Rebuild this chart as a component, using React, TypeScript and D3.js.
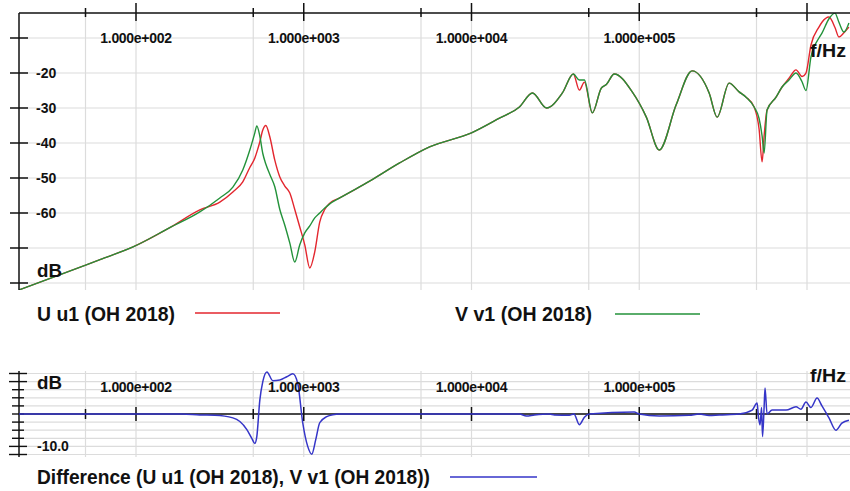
import React from "react";
import * as d3 from "d3";

// ---------- data ----------
const FREQ_UV = [20, 35, 61, 96, 159, 240, 316, 378, 433, 477, 511, 525, 547, 570, 594, 628, 672, 720, 771, 826, 884, 947, 1014, 1086, 1163, 1245, 1334, 1429, 1638, 2470, 3727, 5623, 10000, 14678, 19307, 23090, 27950, 34800, 40470, 43960, 47100, 52500, 59400, 63650, 71000, 90800, 110200, 131600, 166000, 206600, 261000, 291300, 343400, 393800, 433300, 484000, 518000, 540000, 555000, 578000, 653900, 710000, 781000, 860000, 934000, 986000, 1056000, 1178000, 1228000, 1352000, 1468000, 1550000, 1660000, 1778000];
const U_DB = [-82, -77.7, -73.3, -69.7, -64.2, -59.1, -56.9, -54, -51.1, -47, -44.3, -42.6, -39.7, -36.3, -35, -38.3, -44.9, -49.7, -52.3, -54.3, -59, -64, -69.1, -75.7, -71.1, -62.6, -59, -57.2, -55.7, -50.9, -45.7, -41.1, -37.1, -32.9, -29.7, -25.7, -30, -25.7, -20.3, -24.9, -22.6, -31.4, -24.3, -23.3, -20.3, -25.4, -32.6, -42, -29.1, -19.4, -25.7, -32.6, -22.9, -25.4, -26.9, -29.7, -36, -45.4, -38, -30.6, -26.9, -24, -21.5, -19.1, -21, -20, -12, -6.9, -5.5, -4, -7, -9.7, -8.5, -6.9];
const V_DB = [-82, -77.7, -73.3, -69.7, -64.2, -59.7, -55.7, -52.6, -47.7, -42, -37.1, -35.1, -38, -43, -46, -49, -52.5, -59, -63.5, -68.6, -74, -69.1, -65.7, -63.7, -61.4, -60, -58.6, -57.4, -55.7, -50.9, -45.7, -41.1, -37.1, -32.9, -29.7, -25.7, -30, -25.7, -20.3, -22, -22, -31.4, -24.3, -23.3, -20.3, -25.4, -32.6, -42, -29.1, -19.4, -25.7, -32.6, -22.9, -25.4, -26.9, -29.7, -33, -38, -42.9, -30.6, -26.9, -24, -22, -20, -22.5, -25, -15.4, -10, -8.6, -4.5, -2.9, -5.5, -8.3, -5.7];
const DIFF_FREQ = [20, 188, 240, 295, 378, 416, 458, 490, 511, 525, 547, 570, 603, 654, 720, 792, 861, 921, 986, 1056, 1116, 1178, 1245, 1371, 1490, 1638, 19307, 21230, 23700, 29110, 31200, 38300, 40800, 43960, 47100, 50400, 93300, 100000, 131600, 198600, 227700, 261000, 299400, 393800, 471000, 504000, 514000, 525000, 536000, 543000, 555000, 562000, 578000, 619000, 750000, 860000, 920000, 986000, 1056000, 1148000, 1228000, 1352000, 1489000, 1614000, 1778000];
const DIFF_DB = [0, 0, -0.3, -0.4, -1.2, -2.3, -4.8, -7.5, -9.1, -7, 4.2, 10, 13, 10.3, 10.5, 11.5, 12.4, 9.4, -2.7, -10, -12.4, -8, -2.7, -0.8, -0.2, 0, 0, -0.6, -0.3, 0, -0.3, -0.4, 0, -3.3, -1, 0, 0.6, 0, -0.6, -0.4, 0, -0.5, -0.3, 0, 1.2, 3.4, -1, -3.4, 2, -7, 2, 8, 0, 1.2, 1.2, 2.2, 1.5, 3.7, 2, 4.9, 2.5, -1.2, -5, -2.8, -1.9];

const DECADES = [100, 1000, 10000, 100000, 1000000];
const MINORS = [50, 500, 5000, 50000, 500000];
const X_LABELS = ["1.000e+002", "1.000e+003", "1.000e+004", "1.000e+005"];
const TOP_Y_TICKS = [-10, -20, -30, -40, -50, -60, -70, -80];
const TOP_Y_LABELS = ["", "-20", "-30", "-40", "-50", "-60", "", ""];
const BOT_Y_TICKS = [12.5, 10, 7.5, 5, 2.5, 0, -2.5, -5, -7.5, -10, -12.5];
const LEGEND_U = "U u1 (OH 2018)";
const LEGEND_V = "V v1 (OH 2018)";
const LEGEND_D = "Difference (U u1 (OH 2018), V v1 (OH 2018))";

const RED = "#e3262e";
const GREEN = "#23923a";
const BLUE = "#3535c8";
const GRID = "#dcdcdc";
const FONT = "'Liberation Sans', Arial, Helvetica, sans-serif";

export default function App() {
  const W = 850, H = 491;
  const x = d3.scaleLog().domain([20, 2e6]).range([18.75, 857.5]);
  const yTop = d3.scaleLinear().domain([-80, -10]).range([283, 38]);
  const yBot = d3.scaleLinear().domain([-12.5, 12.5]).range([454.5, 373.5]);
  const top0 = 13, top1 = 290, bot0 = 371, bot1 = 457, left = 19;

  const lineTop = d3.line<[number, number]>().x(d => x(d[0])).y(d => yTop(d[1])).curve(d3.curveMonotoneX);
  const lineBot = d3.line<[number, number]>().x(d => x(d[0])).y(d => yBot(d[1])).curve(d3.curveMonotoneX);
  const uPts = FREQ_UV.map((f, i) => [f, U_DB[i]] as [number, number]);
  const vPts = FREQ_UV.map((f, i) => [f, V_DB[i]] as [number, number]);
  const dPts = DIFF_FREQ.map((f, i) => [f, DIFF_DB[i]] as [number, number]);
  const vGrid = [...DECADES, ...MINORS];

  return (
    <svg width={W} height={H} style={{ position: "absolute", left: 0, top: 0, background: "#fff" }} fontFamily={FONT}>
      <defs>
        <clipPath id="clipTop"><rect x={left} y={top0} width={W - left} height={top1 - top0} /></clipPath>
        <clipPath id="clipBot"><rect x={left} y={bot0} width={W - left} height={bot1 - bot0} /></clipPath>
      </defs>
      <rect x={0} y={0} width={W} height={H} fill="#fff" />

      {/* ---- top panel grid ---- */}
      {vGrid.map(f => (
        <line key={"vg" + f} x1={x(f)} x2={x(f)} y1={top0} y2={top1} stroke={GRID} strokeWidth={1.2} />
      ))}
      {TOP_Y_TICKS.map(v => (
        <line key={"hg" + v} x1={left} x2={W} y1={yTop(v)} y2={yTop(v)} stroke={GRID} strokeWidth={1.2} />
      ))}

      {/* ---- top curves ---- */}
      <g clipPath="url(#clipTop)">
        <path d={lineTop(uPts) || ""} fill="none" stroke={RED} strokeWidth={1.4} />
        <path d={lineTop(vPts) || ""} fill="none" stroke={GREEN} strokeWidth={1.4} />
      </g>

      {/* ---- top axes ---- */}
      <line x1={left} x2={W} y1={top0} y2={top0} stroke="#111" strokeWidth={1.5} />
      <line x1={left} x2={left} y1={top0} y2={top1} stroke="#111" strokeWidth={1.5} />
      {DECADES.map(f => (
        <line key={"dt" + f} x1={x(f)} x2={x(f)} y1={3} y2={21} stroke="#111" strokeWidth={1.5} />
      ))}
      {MINORS.map(f => (
        <line key={"mt" + f} x1={x(f)} x2={x(f)} y1={8} y2={17} stroke="#111" strokeWidth={1.5} />
      ))}
      {TOP_Y_TICKS.map(v => (
        <line key={"yt" + v} x1={10} x2={28} y1={yTop(v)} y2={yTop(v)} stroke="#111" strokeWidth={1.5} />
      ))}
      {X_LABELS.map((t, i) => (
        <text key={"xl" + t} x={x(DECADES[i])} y={43} textAnchor="middle" fontSize={14} fontWeight="bold" fill="#111" letterSpacing={-0.3}>{t}</text>
      ))}
      {TOP_Y_TICKS.map((v, i) => TOP_Y_LABELS[i] ? (
        <text key={"yl" + v} x={36} y={yTop(v) + 5} fontSize={14} fontWeight="bold" fill="#111">{TOP_Y_LABELS[i]}</text>
      ) : null)}
      <text x={37} y={277} fontSize={18} fontWeight="bold" fill="#111" textLength={25} lengthAdjust="spacingAndGlyphs">dB</text>
      <text x={810} y={57} fontSize={18} fontWeight="bold" fill="#111" textLength={36} lengthAdjust="spacingAndGlyphs">f/Hz</text>

      {/* ---- top legend ---- */}
      <text x={37} y={321} fontSize={20} fontWeight="bold" fill="#111" textLength={138} lengthAdjust="spacingAndGlyphs">{LEGEND_U}</text>
      <line x1={195} x2={280} y1={313} y2={313} stroke={RED} strokeWidth={1.4} />
      <text x={455} y={321} fontSize={20} fontWeight="bold" fill="#111" textLength={137} lengthAdjust="spacingAndGlyphs">{LEGEND_V}</text>
      <line x1={615} x2={700} y1={314} y2={314} stroke={GREEN} strokeWidth={1.4} />

      {/* ---- bottom panel grid ---- */}
      {vGrid.map(f => (
        <line key={"bvg" + f} x1={x(f)} x2={x(f)} y1={bot0} y2={bot1} stroke={GRID} strokeWidth={1.2} />
      ))}
      {BOT_Y_TICKS.map(v => (
        <line key={"bhg" + v} x1={left} x2={W} y1={yBot(v)} y2={yBot(v)} stroke={GRID} strokeWidth={1.2} />
      ))}

      {/* ---- bottom axes ---- */}
      <line x1={left} x2={W} y1={yBot(0)} y2={yBot(0)} stroke="#111" strokeWidth={1.5} />
      <line x1={left} x2={left} y1={bot0} y2={bot1} stroke="#111" strokeWidth={1.5} />
      {DECADES.map(f => (
        <line key={"bdt" + f} x1={x(f)} x2={x(f)} y1={yBot(0) - 7} y2={yBot(0) + 7} stroke="#111" strokeWidth={1.5} />
      ))}
      {MINORS.map(f => (
        <line key={"bmt" + f} x1={x(f)} x2={x(f)} y1={yBot(0) - 5} y2={yBot(0) + 5} stroke="#111" strokeWidth={1.5} />
      ))}
      {BOT_Y_TICKS.map(v => {
        const long = Math.abs(v) >= 10;
        return <line key={"byt" + v} x1={long ? 9 : 12} x2={long ? 27 : 24} y1={yBot(v)} y2={yBot(v)} stroke="#111" strokeWidth={1.4} />;
      })}

      {/* ---- bottom curve ---- */}
      <g clipPath="url(#clipBot)">
        <path d={lineBot(dPts) || ""} fill="none" stroke={BLUE} strokeWidth={1.5} />
      </g>

      {X_LABELS.map((t, i) => (
        <text key={"bxl" + t} x={x(DECADES[i])} y={392} textAnchor="middle" fontSize={14} fontWeight="bold" fill="#111" letterSpacing={-0.3}>{t}</text>
      ))}
      <text x={37} y={389} fontSize={18} fontWeight="bold" fill="#111" textLength={25} lengthAdjust="spacingAndGlyphs">dB</text>
      <text x={37} y={451} fontSize={14} fontWeight="bold" fill="#111">-10.0</text>
      <text x={810} y={382} fontSize={18} fontWeight="bold" fill="#111" textLength={36} lengthAdjust="spacingAndGlyphs">f/Hz</text>

      {/* ---- bottom legend ---- */}
      <text x={37} y={484} fontSize={20} fontWeight="bold" fill="#111" textLength={393} lengthAdjust="spacingAndGlyphs">{LEGEND_D}</text>
      <line x1={450} x2={537} y1={477} y2={477} stroke={BLUE} strokeWidth={1.4} />
    </svg>
  );
}
